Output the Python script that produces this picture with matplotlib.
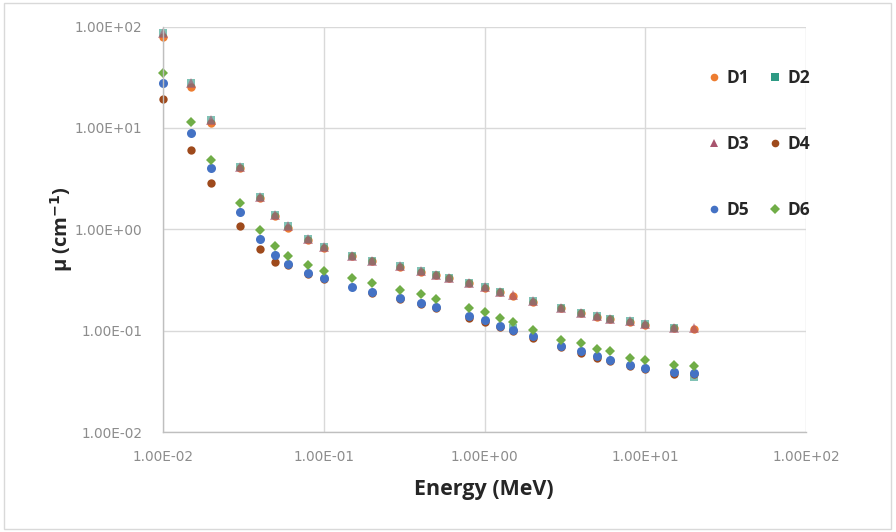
import numpy as np
import matplotlib
matplotlib.use("Agg")
import matplotlib.pyplot as plt
from matplotlib.patches import Rectangle
from matplotlib.ticker import FixedLocator, NullLocator

# Photon energies (MeV)
energy = [0.01, 0.015, 0.02, 0.03, 0.04, 0.05, 0.06, 0.08, 0.1, 0.15, 0.2,
          0.3, 0.4, 0.5, 0.6, 0.8, 1.0, 1.25, 1.5, 2, 3, 4, 5, 6, 8, 10, 15, 20]

nan = np.nan

# Linear attenuation coefficients (cm^-1)
d1 = [79.0, 25.5, 11.2, 3.98, 2.02, 1.34, 1.04, 0.78, 0.655, 0.54, 0.482,
      0.423, 0.378, 0.350, 0.328, 0.292, 0.264, 0.238, 0.222, 0.192, 0.166,
      0.148, 0.136, 0.129, 0.122, 0.113, 0.106, 0.104]
d2 = [86.0, 27.7, 12.0, 4.13, 2.09, 1.39, 1.08, 0.80, 0.67, 0.548, 0.490,
      0.430, 0.384, 0.356, 0.333, 0.297, 0.268, 0.242, 0.105, 0.195, 0.169,
      0.150, 0.138, 0.131, 0.124, 0.115, 0.107, 0.035]
d3 = [85.7, 27.7, 12.0, 4.13, 2.09, 1.39, 1.08, 0.80, 0.67, 0.548, 0.490,
      0.430, 0.384, 0.356, 0.333, 0.297, 0.268, 0.242, 0.226, 0.195, 0.169,
      0.150, 0.138, 0.131, 0.124, 0.115, 0.107, 0.105]
d4 = [19.3, 6.07, 2.87, 1.08, 0.642, 0.478, 0.44, 0.36, 0.322, nan, 0.234,
      0.204, 0.183, 0.166, nan, 0.134, 0.122, 0.108, 0.099, 0.085, 0.069,
      0.060, 0.054, 0.050, 0.045, 0.042, 0.0375, 0.037]
d5 = [27.6, 8.87, 4.04, 1.49, 0.805, 0.561, 0.457, 0.372, 0.333, 0.271, 0.242,
      0.211, 0.189, 0.172, nan, 0.138, 0.126, 0.112, 0.102, 0.0879, 0.0711,
      0.0625, 0.0558, 0.0518, 0.0462, 0.0432, 0.0388, 0.0383]
d6 = [34.5, 11.3, 4.84, 1.82, 0.99, 0.688, 0.548, 0.447, 0.390, 0.333, 0.297,
      0.254, 0.232, 0.207, nan, 0.167, 0.152, 0.134, 0.123, 0.102, 0.0815,
      0.0762, 0.0665, 0.0625, 0.0542, 0.0509, 0.0462, 0.0445]

# name, values, marker, colour, size, alpha
series = [
    ("D1", d1, "o", "#ED7D31", 6.0, 1.0),
    ("D2", d2, "s", "#2E9A84", 6.4, 0.6),
    ("D3", d3, "^", "#A8546E", 6.5, 0.6),
    ("D4", d4, "o", "#9E4A1C", 6.0, 1.0),
    ("D5", d5, "o", "#4472C4", 6.5, 1.0),
    ("D6", d6, "D", "#70AD47", 5.0, 1.0),
]

x_ticks = [1e-2, 1e-1, 1e0, 1e1, 1e2]
y_ticks = [1e-2, 1e-1, 1e0, 1e1, 1e2]
tick_labels = ["1.00E-02", "1.00E-01", "1.00E+00", "1.00E+01", "1.00E+02"]

plt.rcParams['font.family'] = ['Open Sans', 'DejaVu Sans']

fig = plt.figure(figsize=(8.96, 5.32), dpi=100)
ax = fig.add_axes([163 / 896, 1 - 432 / 532, 643 / 896, 405.5 / 532])

handles = {}
for name, vals, mk, col, ms, a in series:
    line, = ax.plot(energy, vals, linestyle="none", marker=mk, color=col,
                    markersize=ms, markeredgewidth=0, alpha=a, label=name,
                    clip_on=False)
    handles[name] = line

ax.set_xscale("log")
ax.set_yscale("log")
ax.set_xlim(1e-2, 1e2)
ax.set_ylim(1e-2, 1e2)

ax.xaxis.set_major_locator(FixedLocator(x_ticks))
ax.yaxis.set_major_locator(FixedLocator(y_ticks))
ax.xaxis.set_minor_locator(NullLocator())
ax.yaxis.set_minor_locator(NullLocator())
ax.set_xticklabels(tick_labels, family="DejaVu Sans")
ax.set_yticklabels(tick_labels, family="DejaVu Sans")
ax.tick_params(axis="both", length=0, labelsize=9.8, labelcolor="#8C8C8C")
ax.tick_params(axis="x", pad=13)
ax.tick_params(axis="y", pad=15)

ax.grid(True, color="#D9D9D9", linewidth=1.0)
ax.set_axisbelow(True)
for side in ["top", "right"]:
    ax.spines[side].set_visible(False)
for side in ["left", "bottom"]:
    ax.spines[side].set_color("#BFBFBF")
    ax.spines[side].set_linewidth(1.0)

fig.text(484 / 896, 1 - 490 / 532, "Energy (MeV)", fontsize=15.5,
         fontweight="bold", color="#262626", ha="center", va="center")
fig.text(62 / 896, 1 - 229 / 532, r"μ (cm$^{\mathbf{-1}}$)", fontsize=14.5,
         fontweight="bold", color="#262626", ha="center", va="center",
         rotation=90)

# legend is filled column by column, so order entries to read row-wise
order = ["D1", "D3", "D5", "D2", "D4", "D6"]
leg = ax.legend([handles[n] for n in order], order, ncol=2, loc="upper left",
                bbox_to_anchor=(0.83, 0.912), frameon=False, fontsize=12.5,
                labelspacing=2.75, handletextpad=0.1, columnspacing=0.9,
                handlelength=1.2, borderaxespad=0)
for t in leg.get_texts():
    t.set_fontweight("bold")
    t.set_color("#262626")
for h in leg.legend_handles:
    h.set_alpha(1.0)
    h.set_markersize(5.5)

# chart area border
fig.patches.append(Rectangle((4 / 896, 3 / 532), 887 / 896, 526 / 532,
                             transform=fig.transFigure, fill=False,
                             edgecolor="#D9D9D9", linewidth=1.0))

fig.savefig("out.png", dpi=100)
